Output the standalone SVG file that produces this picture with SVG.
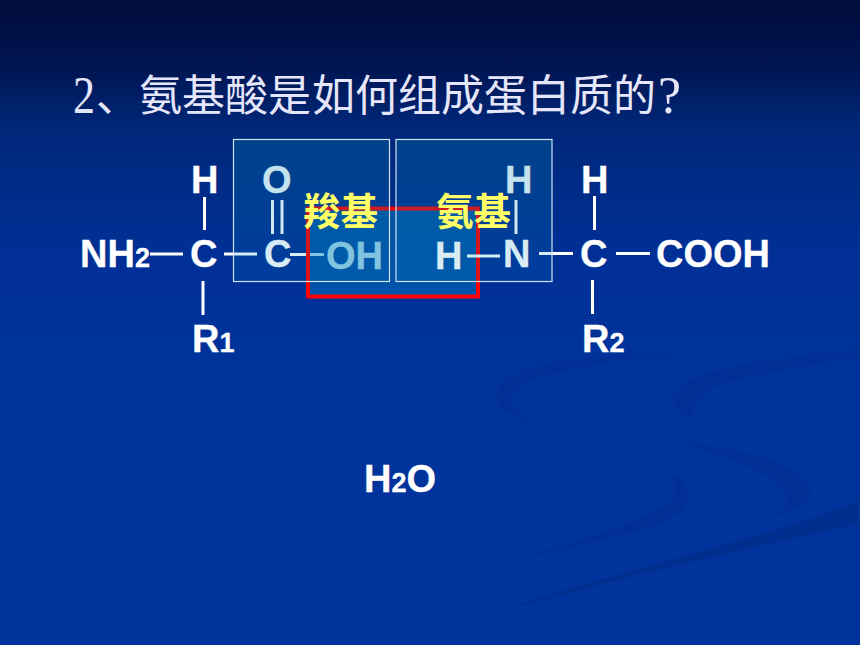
<svg xmlns="http://www.w3.org/2000/svg" width="860" height="645" viewBox="0 0 860 645">
<style>
.t{font-family:"Liberation Sans",Arial,sans-serif;font-weight:700;font-size:38px;fill:#fff;stroke:#fff;stroke-width:.3}
.s{font-size:27px}
.y{font-family:"Noto Sans CJK SC",sans-serif;font-weight:700;font-size:37.500px;fill:#ffff66}
.c{stroke:#fff;stroke-width:3;fill:none}
.b{fill:url(#box);stroke:#cfe3f2;stroke-width:1.2}
.w{fill:#003095}
.l{font-family:"Liberation Serif",serif;font-size:52px}
</style>
<defs>
<linearGradient id="bg" x1="0" y1="0" x2="0" y2="1">
<stop offset="0" stop-color="#000c3c"/>
<stop offset=".1" stop-color="#001450"/>
<stop offset=".2" stop-color="#00287a"/>
<stop offset=".4" stop-color="#003097"/>
<stop offset=".6" stop-color="#00339c"/>
<stop offset="1" stop-color="#00339c"/>
</linearGradient>
<linearGradient id="box" x1="0" y1="0" x2="0" y2="1">
<stop offset="0" stop-color="#0084b4" stop-opacity=".27"/>
<stop offset="1" stop-color="#0084b4" stop-opacity=".13"/>
</linearGradient>
</defs>
<rect width="860" height="645" fill="url(#bg)"/>
<g id="background-swooshes">
<path class="w" d="M700 351C610 356 505 358 496 394C494 412 520 425 668 472C684 480 690 490 688 498C686 514 660 524 640 530C580 548 480 565 400 592C500 562 620 535 665 505C680 495 678 482 668 474C600 448 520 430 510 402C504 380 580 362 700 351Z"/>
<path class="w" d="M860 350C780 358 680 368 673 397C673 408 685 416 697 420C688 410 690 398 720 385C760 372 810 366 860 356Z"/>
<path class="w" d="M680 443C750 448 808 468 810 493C810 504 790 513 770 518C788 510 792 498 780 486C760 466 720 456 680 443Z"/>
<path d="M859 500C800 530 600 575 500 612C600 582 780 540 859 524Z" fill="#002e8e"/>
</g>
<g id="connectors">
<path class="c" d="M204.500 197V230M203 281V315M150 254H183M224 254H257M272.500 200V234M282 200V234M290 254.500H324"/>
</g>
<g id="node-oh"><text class="t" x="326" y="269">OH</text></g>
<g id="amide-box"><rect x="308" y="208.500" width="170" height="88" fill="#0088c2" fill-opacity=".4" stroke="#ff0000" stroke-width="4"/></g>
<g id="connectors-right">
<path class="c" d="M467 256H500M516 200V234M539 253.500H573M594.500 196V230M592.500 280V314M616 253.500H650"/>
</g>
<g id="node-h1"><text class="t" x="191" y="193">H</text></g>
<g id="node-nh2"><text class="t" x="80" y="267">NH<tspan class="s">2</tspan></text></g>
<g id="node-c1"><text class="t" x="190" y="267">C</text></g>
<g id="node-r1"><text class="t" x="192" y="352">R<tspan class="s">1</tspan></text></g>
<g id="node-o"><text class="t" x="262" y="193">O</text></g>
<g id="node-c2"><text class="t" x="264" y="267">C</text></g>
<g id="node-h2"><text class="t" x="435" y="269">H</text></g>
<g id="node-n"><text class="t" x="503" y="267">N</text></g>
<g id="node-h3"><text class="t" x="505" y="193">H</text></g>
<g id="node-h4"><text class="t" x="581" y="193">H</text></g>
<g id="node-c3"><text class="t" x="580" y="267">C</text></g>
<g id="node-cooh"><text class="t" x="656" y="267">COOH</text></g>
<g id="node-r2"><text class="t" x="582" y="352">R<tspan class="s">2</tspan></text></g>
<g id="carboxyl-box"><rect class="b" x="233.500" y="139.500" width="156" height="142"/></g>
<g id="amino-box"><rect class="b" x="396" y="139.500" width="156" height="142"/></g>
<g id="label-carboxyl"><text class="y" x="303" y="225">羧基</text></g>
<g id="label-amino"><text class="y" x="436" y="225">氨基</text></g>
<g id="node-h2o"><text class="t" x="364" y="492">H<tspan class="s">2</tspan>O</text></g>
<g id="title" font-size="43" fill="#e6e6fa" font-family="'Noto Sans CJK SC',sans-serif">
<text class="l" x="73" y="113" textLength="22" lengthAdjust="spacingAndGlyphs">2</text>
<text x="96 139 182 225 268 312 355 398 441 484 527 570 613" y="111">、氨基酸是如何组成蛋白质的</text>
<text class="l" x="658" y="113">?</text>
</g>
</svg>
